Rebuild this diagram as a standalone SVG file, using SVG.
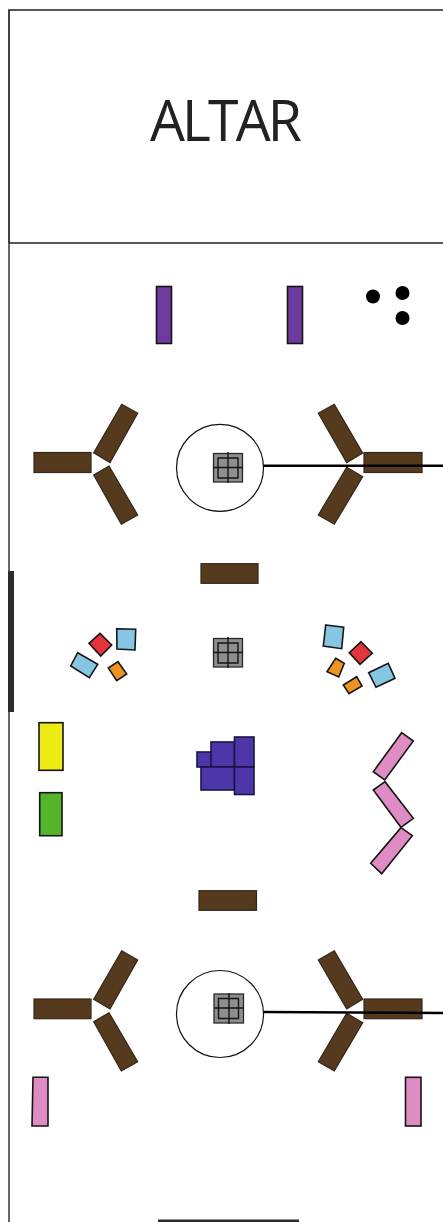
<svg xmlns="http://www.w3.org/2000/svg" width="443" height="1222" viewBox="0 0 443 1222">
<style>
.k{stroke:#151515;stroke-width:1.6}
.br{fill:#553a1e;stroke:#33261a;stroke-width:1.2}
.pu{fill:#6f3a9e}.lb{fill:#86c6e2}.re{fill:#e2343a}.or{fill:#ee9422}
.in{fill:#4c36a8;stroke:#1a1648;stroke-width:1.6}
.pk{fill:#e08cc4;stroke:#151515;stroke-width:1.6}
.gr rect{fill:#8e8e8e;stroke:#2a2a2a;stroke-width:1.3}
.gr path{fill:none;stroke:#151515;stroke-width:1.4}
.ring{fill:none;stroke:#111;stroke-width:1.2}
.dot{fill:#000}
.con{stroke:#000;stroke-width:2.4;fill:none}
</style>
<rect width="443" height="1222" fill="#fff"/>
<g id="frame">
<path d="M9 243V1222" stroke="#666" stroke-width="2" fill="none"/>
<path d="M9 243V10H443" stroke="#222" stroke-width="1.7" fill="none"/>
<path d="M9 243H443" stroke="#222" stroke-width="1.5" fill="none"/>
<rect x="8" y="571" width="6" height="141" fill="#2b2b33"/>
<rect x="158" y="1219.500" width="141" height="2.500" fill="#2b2b2b"/>
</g>
<g id="altar"><text x="150" y="141" font-family="'Open Sans',sans-serif" font-size="57" fill="#222" letter-spacing="-3" textLength="149" lengthAdjust="spacingAndGlyphs">ALTAR</text></g>
<g id="lectern-left"><rect class="pu k" x="156.500" y="286.500" width="15" height="57"/></g>
<g id="lectern-right"><rect class="pu k" x="287.500" y="286.500" width="15" height="57"/></g>
<g id="dots"><circle class="dot" cx="373" cy="296.500" r="7"/><circle class="dot" cx="402.500" cy="293" r="7"/><circle class="dot" cx="402.500" cy="318" r="7"/></g>
<g id="chairs-top-left">
<rect class="br" x="34" y="452.500" width="57" height="20"/>
<polygon class="br" points="121.700,404.300 137.700,413.300 110,462.700 93.700,452.700"/>
<polygon class="br" points="109,466 93.700,475 121.300,524.300 137.700,515"/>
</g>
<g id="chairs-top-right">
<rect class="br" x="364" y="452.500" width="58" height="20"/>
<polygon class="br" points="334.300,404.300 318.300,413.300 346.700,462.700 362.700,453"/>
<polygon class="br" points="346.700,467.300 362.700,476.700 334.300,524.300 318.300,515"/>
</g>
<g id="chairs-bottom-left">
<rect class="br" x="34" y="999" width="57" height="19.700"/>
<polygon class="br" points="121.700,950.700 137.700,960 110,1009 93.700,999.300"/>
<polygon class="br" points="109,1012.700 93.700,1021.700 121.300,1071 137.700,1061.700"/>
</g>
<g id="chairs-bottom-right">
<rect class="br" x="364" y="999" width="58" height="19.700"/>
<polygon class="br" points="334.300,950.700 318.300,960 346.700,1009 362.700,999.300"/>
<polygon class="br" points="346.700,1013.300 362.700,1022.700 334.300,1071 318.300,1061.700"/>
</g>
<g id="bench-top"><rect class="br" x="201" y="563.700" width="57" height="19.600"/></g>
<g id="bench-bottom"><rect class="br" x="199" y="890.700" width="57.500" height="19.600"/></g>
<g id="ring-top"><circle class="ring" cx="220" cy="467.800" r="43.500"/></g>
<g id="ring-bottom"><circle class="ring" cx="220" cy="1014" r="43.500"/></g>
<g id="grid-top" class="gr"><rect x="213.500" y="453.500" width="29" height="28.500"/><path d="M218 458h20v20h-20zM228 452v31M213 467.500h30"/></g>
<g id="grid-mid" class="gr"><rect x="213.500" y="638.500" width="29" height="28.500"/><path d="M218 643h20v20h-20zM228 637v31M213 652.500h30"/></g>
<g id="grid-bottom" class="gr"><rect x="214" y="994" width="29.500" height="29"/><path d="M218.500 998.500h20v20h-20zM229 993v31M214 1008h30"/></g>
<g id="seats-left">
<polygon class="lb k" points="116.700,628.700 135.700,629.300 135,650 117,649"/>
<polygon class="re k" points="100,633.300 111.700,645 100.700,656 89,643.300"/>
<polygon class="lb k" points="77.700,652.700 97.700,664.300 89.300,677.700 70.700,666"/>
<polygon class="or k" points="118,661.700 126.700,674 116.700,680.700 108.300,668"/>
</g>
<g id="seats-right">
<polygon class="lb k" points="325.700,625 343.700,627.300 341.700,648.700 323.300,646"/>
<polygon class="re k" points="361,641.700 372.300,653.300 360,664.300 349.300,652.700"/>
<polygon class="or k" points="335.700,658.300 344.300,663.300 338.700,677 327,671.700"/>
<polygon class="or k" points="356.700,676.700 362,686 349,693.700 343.300,685"/>
<polygon class="lb k" points="388.300,663.300 395,678.300 376,687.300 368.700,672.700"/>
</g>
<g id="yellow"><rect class="k" x="39" y="722.700" width="24" height="47.600" fill="#ecec14"/></g>
<g id="green"><rect class="k" x="39.700" y="792.700" width="22.300" height="43" fill="#55b52a"/></g>
<g id="stack">
<rect class="in" x="197" y="752" width="14.500" height="15"/>
<rect class="in" x="211" y="742" width="23.500" height="25"/>
<rect class="in" x="201" y="767" width="33.500" height="23"/>
<rect class="in" x="234.500" y="737" width="19.500" height="30"/>
<rect class="in" x="234.500" y="767" width="19.500" height="27.500"/>
</g>
<g id="pink-right">
<polygon class="pk" points="401.700,732.700 413.300,741 384.700,780 373.300,771.700"/>
<polygon class="pk" points="385,781.700 373.300,790 401,827.300 413.300,818.300"/>
<polygon class="pk" points="401,827.700 412.300,835.700 381.700,873.700 370.700,863.300"/>
</g>
<g id="pink-bottom-left"><polygon class="pk" points="33,1077.300 48,1077.300 48,1126 32,1126"/></g>
<g id="pink-bottom-right"><rect class="pk" x="405.500" y="1077.300" width="15.500" height="48.700"/></g>
<g id="connectors">
<path class="con" d="M263.500 465.700H443"/>
<path class="con" d="M263.500 1012L443 1013"/>
</g>
</svg>
